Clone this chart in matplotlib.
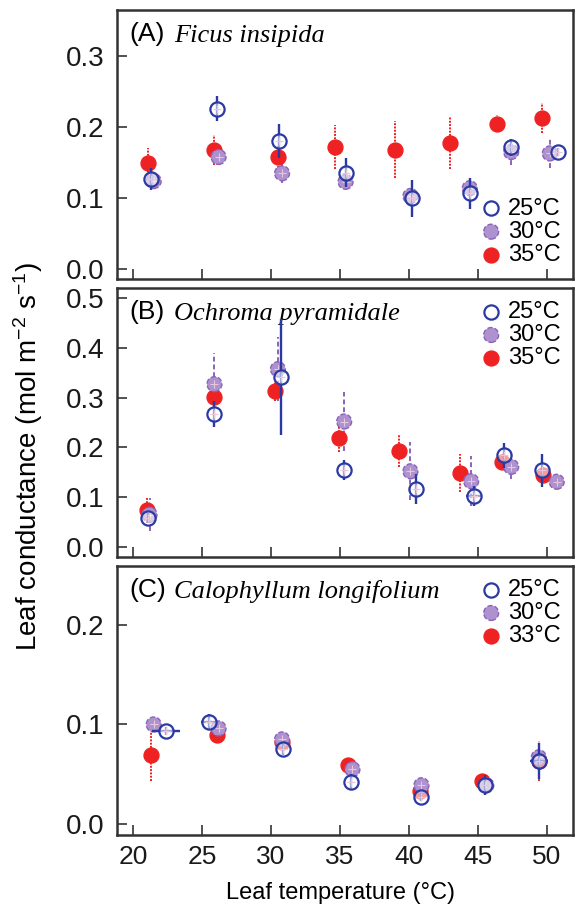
import matplotlib
matplotlib.use("Agg")
import matplotlib.pyplot as plt
from matplotlib import font_manager as fm
import numpy as np

# leaf temperature (C), conductance, y error, x error  -- panel A Ficus insipida
a25_t = [21.3, 26.1, 30.6, 35.4, 40.2, 44.4, 47.4, 50.8]
a25_g = [0.127, 0.226, 0.181, 0.136, 0.100, 0.107, 0.172, 0.165]
a25_e = [0.015, 0.018, 0.024, 0.020, 0.026, 0.022, 0.012, 0.005]
a30_t = [21.5, 26.2, 30.8, 35.4, 40.1, 44.4, 47.4, 50.2]
a30_g = [0.124, 0.158, 0.135, 0.123, 0.103, 0.114, 0.165, 0.163]
a30_e = [0.010, 0.012, 0.013, 0.012, 0.010, 0.010, 0.018, 0.020]
a35_t = [21.1, 25.9, 30.5, 34.6, 39.0, 43.0, 46.4, 49.6]
a35_g = [0.149, 0.168, 0.158, 0.172, 0.168, 0.178, 0.205, 0.213]
a35_e = [0.022, 0.021, 0.015, 0.031, 0.040, 0.037, 0.012, 0.021]
a35_x = [0, 0, 0, 0, 0.3, 0.3, 0, 0]

# panel B Ochroma pyramidale
b25_t = [21.1, 25.9, 30.7, 35.3, 40.5, 44.7, 46.9, 49.6]
b25_g = [0.059, 0.267, 0.341, 0.155, 0.117, 0.102, 0.184, 0.154]
b25_e = [0.010, 0.026, 0.116, 0.020, 0.030, 0.020, 0.025, 0.033]
b25_x = [0, 0, 0, 0, 0, 0.6, 0, 0]
b30_t = [21.2, 25.9, 30.5, 35.3, 40.1, 44.5, 47.4, 50.7]
b30_g = [0.065, 0.327, 0.357, 0.252, 0.152, 0.132, 0.161, 0.131]
b30_e = [0.033, 0.063, 0.064, 0.060, 0.058, 0.050, 0.025, 0.010]
b35_t = [21.0, 25.9, 30.3, 34.9, 39.3, 43.7, 46.7, 49.7]
b35_g = [0.074, 0.301, 0.313, 0.219, 0.193, 0.149, 0.171, 0.145]
b35_e = [0.025, 0.020, 0.020, 0.028, 0.033, 0.038, 0.015, 0.015]

# panel C Calophyllum longifolium
c25_t = [22.4, 25.5, 30.9, 35.8, 40.9, 45.5, 49.4]
c25_g = [0.093, 0.102, 0.075, 0.042, 0.027, 0.039, 0.063]
c25_e = [0.004, 0.008, 0.006, 0.008, 0.004, 0.010, 0.018]
c25_x = [1.0, 0.6, 0, 0, 0, 0, 0.66]
c30_t = [21.5, 26.2, 30.8, 35.9, 40.9, 45.6, 49.4]
c30_g = [0.100, 0.096, 0.085, 0.055, 0.039, 0.039, 0.067]
c30_e = [0.004, 0.006, 0.005, 0.005, 0.007, 0.005, 0.010]
c33_t = [21.3, 26.1, 30.8, 35.6, 40.8, 45.3, 49.4]
c33_g = [0.069, 0.089, 0.082, 0.059, 0.033, 0.043, 0.063]
c33_e = [0.026, 0.008, 0.004, 0.007, 0.004, 0.008, 0.020]

xticks = [20, 25, 30, 35, 40, 45, 50]

panels = [
    ("(A)", "Ficus insipida", (-0.014, 0.365), [0.0, 0.1, 0.2, 0.3], "lower right",
     [(a35_t, a35_g, a35_e, a35_x), (a30_t, a30_g, a30_e, None), (a25_t, a25_g, a25_e, None)],
     ["35°C", "30°C", "25°C"]),
    ("(B)", "Ochroma pyramidale", (-0.02, 0.52), [0.0, 0.1, 0.2, 0.3, 0.4, 0.5], "upper right",
     [(b35_t, b35_g, b35_e, None), (b30_t, b30_g, b30_e, None), (b25_t, b25_g, b25_e, b25_x)],
     ["35°C", "30°C", "25°C"]),
    ("(C)", "Calophyllum longifolium", (-0.011, 0.259), [0.0, 0.1, 0.2], "upper right",
     [(c33_t, c33_g, c33_e, None), (c30_t, c30_g, c30_e, None), (c25_t, c25_g, c25_e, c25_x)],
     ["33°C", "30°C", "25°C"]),
]

red = "#ee2222"
purple_face = "#ae92cf"
purple_edge = "#8a63b8"
blue = "#2b3aa3"
cross = "#e8c8d8"

# narrow font for the y label if it is there
try:
    fm.findfont(fm.FontProperties(family="Liberation Sans Narrow"), fallback_to_default=False)
    ylab_font = "Liberation Sans Narrow"
except Exception:
    ylab_font = "Liberation Sans"
plt.rcParams["mathtext.fontset"] = "custom"
plt.rcParams["mathtext.rm"] = ylab_font
plt.rcParams["mathtext.it"] = ylab_font

fig = plt.figure(figsize=(5.75, 9.14), dpi=100)
boxes = [(0.6947, 0.989), (0.3906, 0.6849), (0.0864, 0.3807)]
left, right = 117 / 575, 0.997

for (tag, name, ylim, yt, loc, series, labels), (b, t) in zip(panels, boxes):
    ax = fig.add_axes([left, b, right - left, t - b])
    handles = []
    for k, (x, y, e, xe) in enumerate(series):
        x = np.array(x); y = np.array(y); e = np.array(e)
        xe = None if xe is None else np.array(xe)
        if k == 0:
            eb = ax.errorbar(x, y, yerr=e, xerr=xe, fmt="none", ecolor=red, elinewidth=1.4)
            for c in eb[2]:
                c.set_linestyle((0, (1, 0.7)))
            h = ax.scatter(x, y, s=115, color=red, edgecolor=red, zorder=3)
        elif k == 1:
            eb = ax.errorbar(x, y, yerr=e, xerr=xe, fmt="none", ecolor=purple_edge, elinewidth=1.4)
            for c in eb[2]:
                c.set_linestyle((0, (2.5, 1.5)))
            h = ax.scatter(x, y, s=115, color=purple_face, edgecolor=purple_edge,
                           linewidths=1.0, linestyle="--", zorder=4)
            ax.scatter(x, y, s=30, marker="+", color=cross, linewidths=0.8, zorder=4.5)
        else:
            ax.errorbar(x, y, yerr=e, xerr=xe, fmt="none", ecolor=blue, elinewidth=1.7, zorder=5)
            h = ax.scatter(x, y, s=105, facecolor=(1, 1, 1, 0.55), edgecolor=blue,
                           linewidths=1.6, zorder=6)
            ax.scatter(x, y, s=30, marker="+", color=cross, linewidths=0.8, zorder=7)
        handles.append(h)
    ax.set_xlim(18.84, 51.9)
    ax.set_ylim(*ylim)
    ax.set_xticks(xticks)
    ax.set_yticks(yt)
    ax.set_yticklabels([f"{v:.1f}" for v in yt], family="Liberation Sans", fontsize=20)
    if tag == "(C)":
        ax.set_xticklabels([str(v) for v in xticks], family="Liberation Sans", fontsize=19)
    else:
        ax.set_xticklabels([])
    ax.tick_params(direction="in", length=7.5, width=1.2, colors="#333333", labelcolor="#1a1a1a")
    ax.tick_params(axis="y", pad=9)
    ax.tick_params(axis="x", pad=7)
    for s in ax.spines.values():
        s.set_linewidth(1.8)
        s.set_color("#333333")
    ax.text(0.028, 0.91, tag, transform=ax.transAxes, fontsize=19, family="Liberation Sans",
            va="center", ha="left")
    ax.text(0.125, 0.905, name, transform=ax.transAxes, fontsize=19, family="Liberation Serif",
            style="italic", va="center", ha="left")
    ax.legend(handles[::-1], labels[::-1], loc=loc, frameon=False,
              handletextpad=0.1, labelspacing=0.05, borderaxespad=0.15,
              prop={"family": "Liberation Sans", "size": 17}, handlelength=1.2)

ylab = fig.text(28 / 575, 1 - 456 / 914, "Leaf conductance (mol m$^{-2}$ s$^{-1}$)", rotation=90,
                ha="center", va="center", fontsize=20, family=ylab_font)
# size the label so it spans about 388 px like the original
r = fig.canvas.get_renderer()
h = ylab.get_window_extent(r).height
ylab.set_fontsize(20 * 388 / h)

fig.text(340 / 575, 1 - 893 / 914, "Leaf temperature (°C)", ha="center", va="center",
         fontsize=17, family="Liberation Sans")

fig.savefig("out.png", dpi=100)
